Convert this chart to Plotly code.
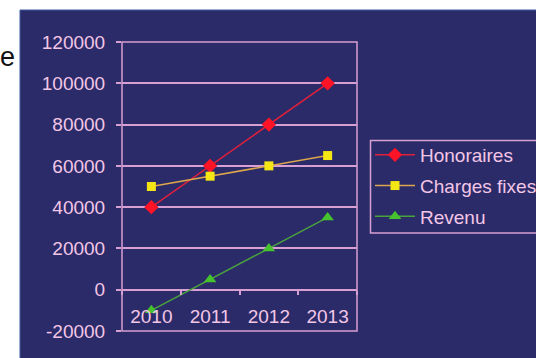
import plotly.graph_objects as go

years = ["2010", "2011", "2012", "2013"]
honoraires = [40000, 60000, 80000, 100000]
charges_fixes = [50000, 55000, 60000, 65000]
revenu = [-10000, 5000, 20000, 35000]
y_ticks = [-20000, 0, 20000, 40000, 60000, 80000, 100000, 120000]
y_tick_text = ["-20000", "0", "20000", "40000", "60000", "80000", "100000", "120000"]

NAVY = "#2b2b69"
GRID = "#d79fd2"
TXT = "#f3c6e6"
FONT = "Liberation Sans, Arial, sans-serif"

W, H = 536, 358
L, R, T, B = 122, 357, 42, 331


def px_x(p):
    return (p - L) / (R - L)


def px_y(p):
    return (B - p) / (B - T)


fig = go.Figure()
fig.add_trace(go.Scatter(
    x=years, y=honoraires, name="Honoraires", mode="lines+markers", legendgroup="a",
    line=dict(color="#e0203c", width=1.5),
    marker=dict(symbol="diamond", size=11, color="#ff1326")))
fig.add_trace(go.Scatter(
    x=years, y=charges_fixes, name="Charges fixes", mode="lines+markers", legendgroup="b",
    line=dict(color="#dca64c", width=1.5),
    marker=dict(symbol="square", size=9, color="#f4e614")))
fig.add_trace(go.Scatter(
    x=years, y=revenu, name="Revenu", mode="lines+markers", legendgroup="c",
    line=dict(color="#4aa23c", width=1.5),
    marker=dict(symbol="triangle-up", size=11, color="#46c22e")))

fig.update_layout(
    width=W, height=H,
    margin=dict(l=L, r=W - R, t=T, b=H - B, autoexpand=False),
    paper_bgcolor="white",
    plot_bgcolor="rgba(0,0,0,0)",
    font=dict(family=FONT, size=19, color=TXT),
    showlegend=True,
    legend=dict(
        x=px_x(370), y=px_y(136), xanchor="left", yanchor="top",
        bgcolor="rgba(0,0,0,0)", bordercolor="rgba(0,0,0,0)", borderwidth=0,
        font=dict(family=FONT, size=19, color=TXT),
        tracegroupgap=3, traceorder="grouped", itemwidth=40,
    ),
    xaxis=dict(
        type="category", categoryorder="array", categoryarray=years,
        range=[-0.5, 3.5], showgrid=False, showline=False, zeroline=False,
        anchor="free", position=20000 / 140000,
        ticks="outside", ticklen=4, tickcolor=GRID, tickwidth=1.5,
        tickson="boundaries", ticklabelstandoff=13,
        tickfont=dict(family=FONT, size=19, color=TXT),
    ),
    yaxis=dict(
        range=[-20000, 120000], tickmode="array", tickvals=y_ticks, ticktext=y_tick_text,
        showgrid=True, gridcolor=GRID, gridwidth=1.5,
        zeroline=True, zerolinecolor=GRID, zerolinewidth=1.5,
        showline=False, ticks="outside", ticklen=5, tickcolor=GRID, tickwidth=1.5,
        ticklabelstandoff=7,
        tickfont=dict(family=FONT, size=19, color=TXT),
    ),
    shapes=[
        dict(type="rect", xref="paper", yref="paper", layer="below",
             x0=px_x(20), x1=px_x(540), y0=px_y(362), y1=px_y(10),
             fillcolor=NAVY, line=dict(color="#3b5aa0", width=1)),
        dict(type="rect", xref="paper", yref="paper", layer="above",
             x0=0, x1=1, y0=0, y1=1,
             fillcolor="rgba(0,0,0,0)", line=dict(color=GRID, width=1.5)),
        dict(type="rect", xref="paper", yref="paper", layer="below",
             x0=px_x(370.5), x1=px_x(560), y0=px_y(233), y1=px_y(140.5),
             fillcolor="rgba(0,0,0,0)", line=dict(color=GRID, width=1.5)),
    ],
    annotations=[
        dict(text="e", xref="paper", yref="paper", x=px_x(7), y=px_y(57),
             xanchor="center", yanchor="middle", showarrow=False,
             font=dict(family=FONT, size=27, color="#111111")),
    ],
)

fig.write_html("out.html")
